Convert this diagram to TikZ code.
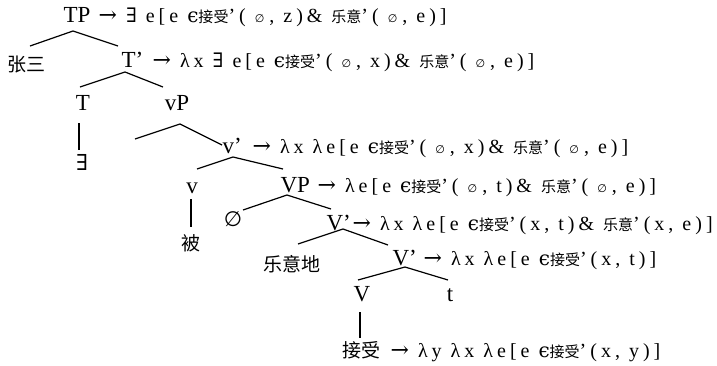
\documentclass[tikz,border=0pt]{standalone}
\usepackage{fontspec}
\setmainfont{Liberation Serif}
\newfontfamily\frmf[LetterSpace=20,Ligatures=TeX]{Liberation Serif}
\newfontfamily\zhfont{Noto Sans CJK SC}
\newfontfamily\symf{DejaVu Serif}
\newfontfamily\symsf{DejaVu Sans}
\newcommand\zs[1]{{\zhfont\fontsize{15}{15}\selectfont #1}}
\newcommand\es{\hspace{9pt}{\symsf\fontsize{11}{11}\selectfont ∅}\hspace{5pt}}
\newcommand\ar{{\symf\fontsize{22}{22}\selectfont →}}
\newcommand\ex{{\symf ∃}}
\newcommand\ep{{\symf ϵ}}
\begin{document}
\begin{tikzpicture}[x=1pt,y=-1pt, line width=1.2pt,
  lab/.style={font=\fontsize{23}{23}\selectfont, inner sep=0, anchor=base},
  frm/.style={font=\frmf\fontsize{20}{20}\selectfont, inner sep=0, anchor=base west},
  zh/.style={font=\zhfont\fontsize{19}{19}\selectfont, inner sep=0}]
\useasboundingbox (0,0) rectangle (717,365);

% labels
\node[lab,anchor=base west] (TP) at (63,22) {TP};
\node[frm] (fTP) at (98,22) {\ar\ \ex\ e[e \ep\zs{接受}'(\es, z)\& \zs{乐意}'(\es, e)]};
\node[zh] (zhang) at (27,65) {张三};
\node[lab,anchor=base west] (Tb) at (121,67) {T'};
\node[frm] (fTb) at (152,67) {\ar\ λx \ex\ e[e \ep\zs{接受}'(\es, x)\& \zs{乐意}'(\es, e)]};
\node[lab] (T) at (83,110) {T};
\node[lab] (vP) at (177,110) {vP};
\node[font=\symf\fontsize{22}{22}\selectfont, inner sep=0] (exn) at (82,162) {∃};
\node[lab,anchor=base west] (vb) at (222,153) {v'};
\node[frm] (fvb) at (252,153) {\ar\ λx λe[e \ep\zs{接受}'(\es, x)\& \zs{乐意}'(\es, e)]};
\node[lab] (v) at (192,193) {v};
\node[lab,anchor=base west] (VP) at (280,192) {VP};
\node[frm] (fVP) at (317,192) {\ar\ λe[e \ep\zs{接受}'(\es, t)\& \zs{乐意}'(\es, e)]};
\node[zh] (bei) at (191,243) {被};
\node[font=\symsf\fontsize{21}{21}\selectfont, inner sep=0] (nul) at (233,219) {∅};
\node[lab,anchor=base west] (Vb1) at (326,230) {V'};
\node[frm] (fVb1) at (352,230) {\ar\ λx λe[e \ep\zs{接受}'(x, t)\& \zs{乐意}'(x, e)]};
\node[zh] (leyi) at (292,264) {乐意地};
\node[lab,anchor=base west] (Vb2) at (392,265) {V'};
\node[frm] (fVb2) at (423,265) {\ar\ λx λe[e \ep\zs{接受}'(x, t)]};
\node[lab] (V) at (362,301) {V};
\node[lab] (t) at (450,301) {t};
\node[zh,anchor=base west] (jieshou) at (342,357) {接受};
\node[frm] (fjs) at (390,357) {\ar\ λy λx λe[e \ep\zs{接受}'(x, y)]};

% branch points
\coordinate (a1) at (73,31);  \coordinate (l1) at (30,46);  \coordinate (r1) at (118,46);
\coordinate (a2) at (125,72); \coordinate (l2) at (80,87);  \coordinate (r2) at (163,87);
\coordinate (t1) at (79,123); \coordinate (t2) at (79,150);
\coordinate (a3) at (180,124); \coordinate (l3) at (135,139); \coordinate (r3) at (222,145);
\coordinate (a4) at (233,157); \coordinate (l4) at (197,169); \coordinate (r4) at (283,169);
\coordinate (s1) at (191,199); \coordinate (s2) at (191,227);
\coordinate (a5) at (287,195); \coordinate (l5) at (243,210); \coordinate (r5) at (331,209);
\coordinate (a6) at (343,229); \coordinate (l6) at (298,244); \coordinate (r6) at (388,245);
\coordinate (a7) at (405,267); \coordinate (l7) at (358,280); \coordinate (r7) at (448,280);
\coordinate (u1) at (360,312); \coordinate (u2) at (360,338);

\draw (l1) -- (a1) -- (r1);
\draw (l2) -- (a2) -- (r2);
\draw (t1) -- (t2);
\draw (l3) -- (a3) -- (r3);
\draw (l4) -- (a4) -- (r4);
\draw (s1) -- (s2);
\draw (l5) -- (a5) -- (r5);
\draw (l6) -- (a6) -- (r6);
\draw (l7) -- (a7) -- (r7);
\draw (u1) -- (u2);
\end{tikzpicture}
\end{document}
